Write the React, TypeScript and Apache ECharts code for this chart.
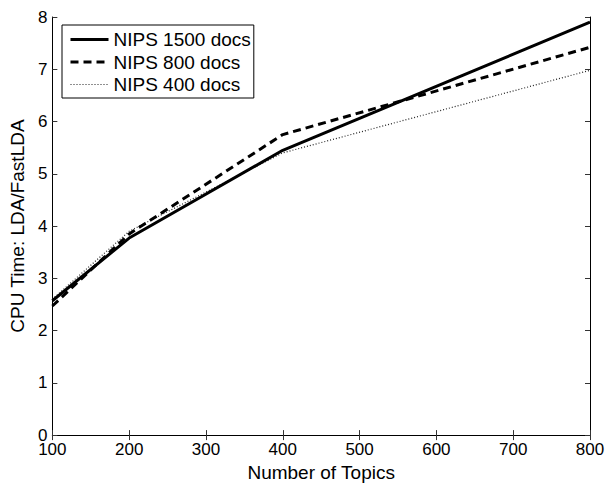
import React, { useEffect, useRef } from "react";
import * as echarts from "echarts";

const topics = [100, 200, 400, 800];
const nips1500 = [2.57, 3.77, 5.45, 7.9];
const nips800 = [2.47, 3.85, 5.75, 7.42];
const nips400 = [2.6, 3.9, 5.4, 6.98];
const seriesNames = ["NIPS 1500 docs", "NIPS 800 docs", "NIPS 400 docs"];

const FONT = "'Liberation Sans', Arial, Helvetica, sans-serif";

export default function App() {
  const ref = useRef<HTMLDivElement>(null);
  useEffect(() => {
    document.body.style.margin = "0";
    const chart = echarts.init(ref.current!, null, { renderer: "svg" });
    const pair = (ys: number[]) => topics.map((x, i) => [x, ys[i]]);
    const axisCommon = {
      type: "value" as const,
      axisLine: { show: true, lineStyle: { color: "#000", width: 1 } },
      axisTick: { show: true, inside: true, length: 5, lineStyle: { color: "#333" } },
      splitLine: { show: false },
    };
    chart.setOption({
      animation: false,
      backgroundColor: "#fff",
      textStyle: { fontFamily: FONT },
      grid: { left: 51, right: 18, top: 17, bottom: 45, containLabel: false },
      legend: {
        show: true,
        orient: "vertical",
        left: 62,
        top: 25,
        data: [
          { name: seriesNames[0], lineStyle: { width: 3, color: "#000", type: "solid" } },
          { name: seriesNames[1], lineStyle: { width: 3, color: "#000", type: [8, 5] } },
          { name: seriesNames[2], lineStyle: { width: 1.2, color: "#222", type: [1, 2] } },
        ],
        itemWidth: 38,
        itemHeight: 14,
        itemGap: 3.5,
        itemTextGap: 5,
        padding: [5, 3, 4, 7],
        backgroundColor: "#fff",
        borderColor: "#000",
        borderWidth: 1,
        borderRadius: 0,
        itemStyle: { opacity: 0 },
        textStyle: { fontFamily: FONT, fontSize: 19, color: "#000" },
      },
      xAxis: [
        {
          ...axisCommon,
          min: 100,
          max: 800,
          interval: 100,
          name: "Number of Topics",
          nameLocation: "middle",
          nameGap: 25,
          nameTextStyle: { fontFamily: FONT, fontSize: 19, color: "#000" },
          axisLabel: { fontFamily: FONT, fontSize: 17, color: "#000", margin: 6 },
        },
        {
          ...axisCommon,
          position: "top",
          min: 100,
          max: 800,
          interval: 100,
          axisLabel: { show: false },
        },
      ],
      yAxis: [
        {
          ...axisCommon,
          min: 0,
          max: 8,
          interval: 1,
          name: "CPU Time: LDA/FastLDA",
          nameLocation: "middle",
          nameGap: 21,
          nameTextStyle: { fontFamily: FONT, fontSize: 19, color: "#000" },
          axisLabel: { fontFamily: FONT, fontSize: 17, color: "#000", margin: 5 },
        },
        {
          ...axisCommon,
          position: "right",
          min: 0,
          max: 8,
          interval: 1,
          axisLabel: { show: false },
        },
      ],
      series: [
        {
          name: seriesNames[2],
          type: "line",
          data: pair(nips400),
          symbol: "none",
          lineStyle: { color: "#222", width: 1.2, type: [1, 2] },
          itemStyle: { color: "#000" },
        },
        {
          name: seriesNames[1],
          type: "line",
          data: pair(nips800),
          symbol: "none",
          lineStyle: { color: "#000", width: 3, type: [8, 5] },
          itemStyle: { color: "#000" },
        },
        {
          name: seriesNames[0],
          type: "line",
          data: pair(nips1500),
          symbol: "none",
          lineStyle: { color: "#000", width: 3, type: "solid" },
          itemStyle: { color: "#000" },
        },
      ],
    });
    return () => chart.dispose();
  }, []);
  return <div ref={ref} style={{ width: 608, height: 487 }} />;
}
